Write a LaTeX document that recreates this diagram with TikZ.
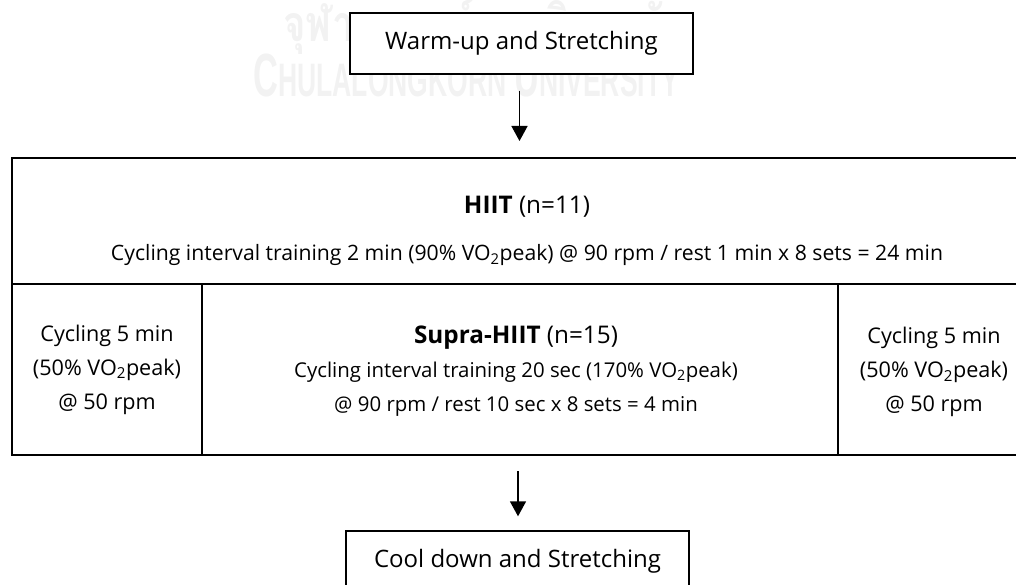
\documentclass[tikz,border=0pt]{standalone}
\usepackage{fontspec}
\setmainfont{Open Sans}
\newfontfamily\thaiwm[Script=Thai]{Loma}
\newfontfamily\wmfont{Liberation Sans}
\usetikzlibrary{arrows.meta,calc}
\newcommand{\vo}{VO\textsubscript{2}peak}
\newcommand{\ttl}{\fontsize{24.3}{34}\selectfont}
\begin{document}
\begin{tikzpicture}[x=1pt,y=-1pt,
  thinbox/.style={draw, line width=1.4pt, fill=white, inner sep=0, font=\fontsize{24}{30}\selectfont},
  cell/.style={draw, line width=2pt, inner sep=0, align=center},
  flow/.style={line width=1.5pt, -{Triangle[width=16pt,length=15pt]}},
  sidetxt/.style={font=\fontsize{21.6}{34}\selectfont},
  supratxt/.style={font=\fontsize{20.4}{34}\selectfont},
  hiitfont/.style={font=\fontsize{21.2}{34}\selectfont},
  wm/.style={text=black!5, inner sep=0}]
\useasboundingbox (0,0) rectangle (1016,585);
% faint watermark
\node[wm, anchor=base west] (wmth) at (283,42) {\thaiwm\bfseries\scalebox{0.77}[1]{\fontsize{50}{50}\selectfont จุฬาลงกรณ์มหาวิทยาลัย}};
\node[wm, anchor=base west] (wmen) at (253,97) {\wmfont\bfseries\scalebox{0.565}[1]{\fontsize{61}{61}\selectfont C\fontsize{47}{47}\selectfont HULALONGKORN \fontsize{61}{61}\selectfont U\fontsize{47}{47}\selectfont NIVERSITY}};
% boxes
\node[thinbox, minimum width=343pt, minimum height=61pt] (warm) at (521.5,43.5) {Warm-up and Stretching};
\node[cell, minimum width=1018pt, minimum height=126pt] (hiit) at (521,221) {};
\node[hiitfont, inner sep=0, align=center] (hiittxt) at (527,231) {{\ttl\textbf{HIIT} (n=11)}\\[13pt] Cycling interval training 2 min (90\% \vo) @ 90 rpm / rest 1 min x 8 sets = 24 min};
\node[cell, sidetxt, minimum width=190pt, minimum height=171pt] (pre) at (107,369.5) {Cycling 5 min\\(50\% \vo)\\@ 50 rpm};
\node[cell, minimum width=636pt, minimum height=171pt] (supra) at (520,369.5) {};
\node[supratxt, inner sep=0, align=center] (supratext) at (516,371) {{\ttl\textbf{Supra-HIIT} (n=15)}\\Cycling interval training 20 sec (170\% \vo)\\@ 90 rpm / rest 10 sec x 8 sets = 4 min};
\node[cell, sidetxt, minimum width=192pt, minimum height=171pt] (post) at (934,369.5) {};
\node[sidetxt, inner sep=0, align=center] (posttext) at (934,372) {Cycling 5 min\\(50\% \vo)\\@ 50 rpm};
\node[thinbox, minimum width=343pt, minimum height=61pt] (cool) at (517.5,561.5) {Cool down and Stretching};
% connectors
\coordinate (a1s) at ($(warm.south)+(-2,16)$);
\coordinate (a1e) at ($(a1s |- hiit.north)+(0,-16)$);
\coordinate (a2s) at ($(supra.south)+(-2,15)$);
\coordinate (a2e) at ($(a2s |- cool.north)+(0,-14)$);
\draw[flow] (a1s) -- (a1e);
\draw[flow] (a2s) -- (a2e);
\end{tikzpicture}
\end{document}
